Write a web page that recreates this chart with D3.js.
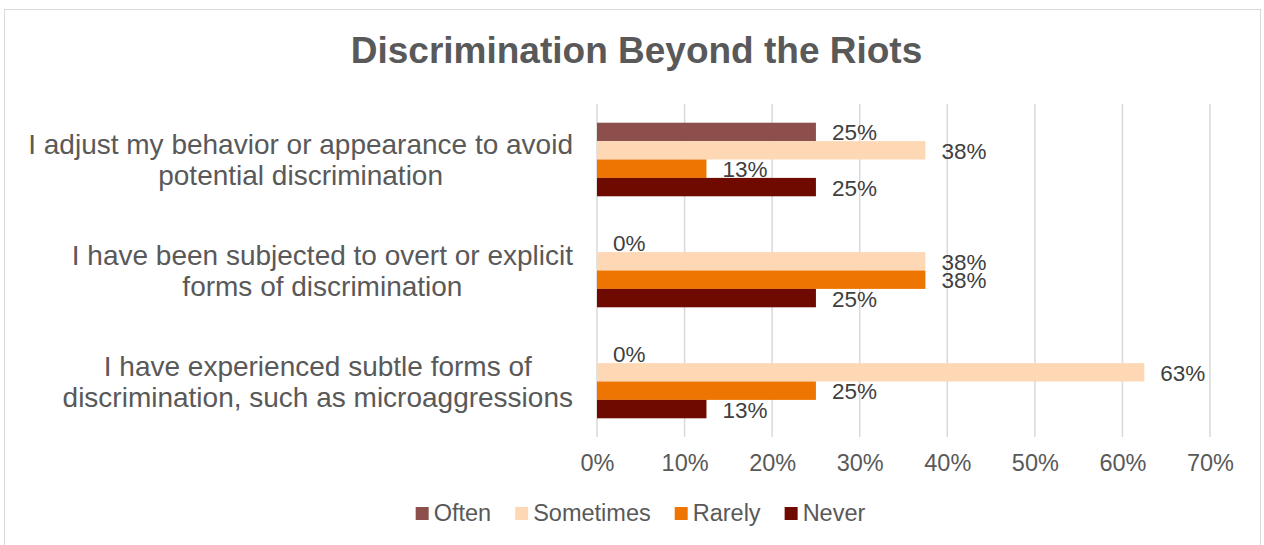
<!DOCTYPE html>
<html>
<head>
<meta charset="utf-8">
<script src="https://cdn.jsdelivr.net/npm/d3@7"></script>
<style>
  html, body { margin: 0; padding: 0; background: #fff; }
  svg { display: block; font-family: "Liberation Sans", Arial, sans-serif; }
</style>
</head>
<body>
<svg id="chart" width="1264" height="545"></svg>
<script>
// Survey statements (wrapped as shown on the axis)
const categories = [
  "I adjust my behavior or appearance to avoid potential discrimination",
  "I have been subjected to overt or explicit forms of discrimination",
  "I have experienced subtle forms of discrimination, such as microaggressions"
];
const categoryLines = [
  ["I adjust my behavior or appearance to avoid", "potential discrimination"],
  ["I have been subjected to overt or explicit", "forms of discrimination"],
  ["I have experienced subtle forms of", "discrimination, such as microaggressions"]
];

// Response frequency series (share of respondents)
const seriesNames = ["Often", "Sometimes", "Rarely", "Never"];
const often     = [0.25,  0,     0];
const sometimes = [0.375, 0.375, 0.625];
const rarely    = [0.125, 0.375, 0.25];
const never     = [0.25,  0.25,  0.125];
const seriesColors = ["#8c4f4b", "#fed8b5", "#ef7502", "#6f0a00"];

const xTicks = [0, 0.1, 0.2, 0.3, 0.4, 0.5, 0.6, 0.7];
const titleText = "Discrimination Beyond the Riots";

const seriesValues = [often, sometimes, rarely, never];
const svg = d3.select("#chart");
const textGray = "#595959";

// Outer chart border
svg.append("rect")
  .attr("x", 4.5).attr("y", 9.5)
  .attr("width", 1256).attr("height", 545)
  .attr("fill", "none").attr("stroke", "#d9d9d9").attr("stroke-width", 1);

// Title
svg.append("text")
  .attr("x", 636.5).attr("y", 63)
  .attr("text-anchor", "middle")
  .attr("font-size", 37).attr("font-weight", "bold")
  .attr("fill", textGray)
  .text(titleText);

// Scales
const plot = { left: 597, right: 1210, top: 104, bottom: 437 };
const x = d3.scaleLinear().domain([0, 0.7]).range([plot.left, plot.right]);
const y = d3.scaleBand().domain(categories).range([plot.top, plot.bottom])
  .paddingInner(0.337).paddingOuter(0.337 / 2);
const ySub = d3.scaleBand().domain(seriesNames).range([0, y.bandwidth()]);

// Vertical gridlines
svg.append("g").selectAll("line").data(xTicks).join("line")
  .attr("x1", d => x(d)).attr("x2", d => x(d))
  .attr("y1", plot.top).attr("y2", plot.bottom)
  .attr("stroke", "#d9d9d9").attr("stroke-width", 1.5);

// X axis tick labels
const xAxis = d3.axisBottom(x).tickValues(xTicks).tickFormat(d3.format(".0%")).tickSize(0).tickPadding(0);
const gx = svg.append("g").attr("transform", `translate(0,${plot.bottom})`).call(xAxis);
gx.select(".domain").remove();
gx.selectAll("text")
  .attr("y", 34).attr("dy", null)
  .attr("font-size", 23.5).attr("font-family", "Liberation Sans, Arial, sans-serif")
  .attr("fill", textGray);

// Bars and value labels
const fmt = d3.format(".0%");
const barData = [];
categories.forEach((c, i) => {
  seriesNames.forEach((s, j) => {
    barData.push({ cat: c, series: s, value: seriesValues[j][i], color: seriesColors[j] });
  });
});

const bars = svg.append("g");
bars.selectAll("rect").data(barData.filter(d => d.value > 0)).join("rect")
  .attr("x", x(0))
  .attr("y", d => y(d.cat) + ySub(d.series))
  .attr("width", d => x(d.value) - x(0))
  .attr("height", ySub.bandwidth())
  .attr("fill", d => d.color);

bars.selectAll("text").data(barData).join("text")
  .attr("x", d => x(d.value) + 16)
  .attr("y", d => y(d.cat) + ySub(d.series) + ySub.bandwidth() / 2 + 8.5)
  .attr("font-size", 22.5)
  .attr("fill", "#404040")
  .text(d => fmt(d.value));

// Category labels: each block centred on its own longest line, right edge near the plot
const catG = svg.append("g");
categories.forEach((c, i) => {
  const lines = categoryLines[i];
  const g = catG.append("g");
  const lineH = 31.5;
  const cy = y(c) + y.bandwidth() / 2;
  const t = g.selectAll("text").data(lines).join("text")
    .attr("font-size", 28)
    .attr("fill", textGray)
    .attr("text-anchor", "middle")
    .attr("y", (d, k) => cy + (k - (lines.length - 1) / 2) * lineH + 10)
    .text(d => d);
  let maxW = 0;
  t.each(function () { maxW = Math.max(maxW, this.getComputedTextLength()); });
  t.attr("x", 573 - maxW / 2);
});

// Legend
const legend = svg.append("g");
const items = legend.selectAll("g").data(seriesNames).join("g");
items.append("rect").attr("width", 13).attr("height", 13).attr("y", -14)
  .attr("fill", (d, i) => seriesColors[i]);
items.append("text").attr("x", 18).attr("y", 0)
  .attr("font-size", 23.5).attr("fill", textGray).text(d => d);
const widths = [];
items.each(function () {
  const w = 18 + d3.select(this).select("text").node().getComputedTextLength();
  widths.push(w);
});
const gap = 24;
const total = d3.sum(widths) + gap * (widths.length - 1);
let lx = 640.5 - total / 2;
items.attr("transform", (d, i) => {
  const tx = lx;
  lx += widths[i] + gap;
  return `translate(${tx},${521})`;
});
</script>
</body>
</html>
